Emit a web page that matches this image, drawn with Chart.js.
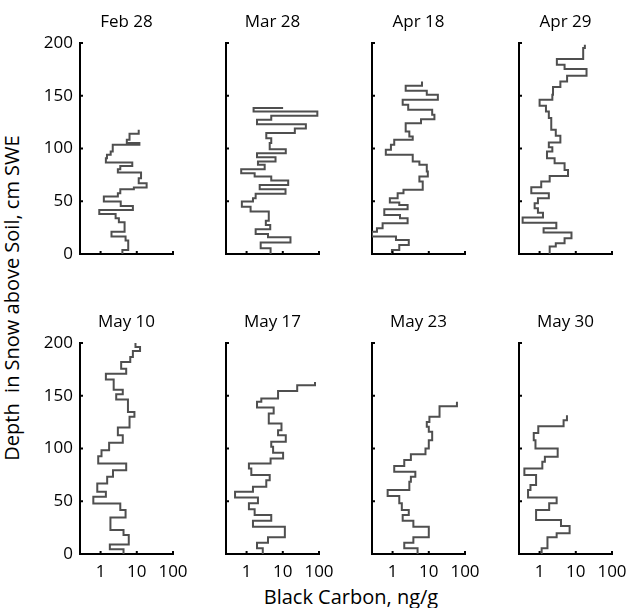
<!DOCTYPE html>
<html>
<head>
<meta charset="utf-8">
<script src="https://cdn.jsdelivr.net/npm/chart.js@4.4.0/dist/chart.umd.min.js"></script>
<style>
  body { margin: 0; background: #fff; }
  #fig { position: relative; width: 628px; height: 608px; overflow: hidden; font-family: 'Open Sans', sans-serif; }
  #fig canvas { position: absolute; }
  .lbl { position: absolute; font-size: 20px; line-height: 20px; color: #000; white-space: pre; text-align: center; }
  #ylab { left: -168px; top: 288px; width: 360px; height: 20px; transform: rotate(-90deg); }
  #xlab { left: 201px; top: 587px; width: 300px; height: 20px; }
</style>
</head>
<body>
<div id="fig">
  <div class="lbl" id="ylab">Depth  in Snow above Soil, cm SWE</div>
  <div class="lbl" id="xlab">Black Carbon, ng/g</div>
</div>
<script>
let dates = ['Feb 28', 'Mar 28', 'Apr 18', 'Apr 29', 'May 10', 'May 17', 'May 23', 'May 30']
let xTicks = [1, 10, 100]
let yTicks = [0, 50, 100, 150, 200]

//layer boundaries (cm SWE above soil) and black carbon of each layer (ng/g)
let depthFeb28 = [0, 3.8, 12.7, 16.5, 21.2, 30.1, 33.9, 38, 41.8, 45.6, 49.7, 54.4, 57.6, 61.4, 63, 67.1, 71.8, 77.2, 80.4, 83.5, 86.7, 90.8, 94, 97.2, 100.3, 103.5, 105.1, 108.2, 113.9, 117.7]
let bcFeb28 = [4.0, 5.8, 4.9, 2.0, 4.6, 3.2, 2.6, 0.92, 7.8, 3.6, 1.23, 3.0, 3.5, 8.3, 18.7, 11.3, 13.1, 3.0, 3.5, 7.5, 1.4, 1.5, 1.9, 2.1, 2.2, 11.8, 5.3, 6.3, 11.3]

let depthMar28 = [0, 5.4, 10.8, 15.8, 19, 23.4, 27.5, 31.6, 40.2, 44.9, 49.7, 52.8, 57, 61.4, 65.5, 69.6, 73.4, 76.6, 80.4, 84.5, 87.7, 91.8, 95.6, 99.4, 105.1, 109.8, 114.6, 119, 123.1, 127.2, 131, 135.1, 138.3, 138.3]
let bcMar28 = [4.6, 2.45, 16.3, 3.9, 1.78, 4.5, 3.4, 4.1, 1.29, 0.74, 1.5, 1.78, 11.9, 2.3, 14.1, 4.8, 1.67, 0.71, 3.16, 2.06, 6.3, 1.94, 12.1, 4.35, 4.8, 3.5, 21.5, 43.4, 1.94, 4.8, 90, 1.56, 10.2]

let depthApr18 = [0, 3.8, 8.5, 13.3, 16.5, 21.2, 24.4, 29.1, 33.9, 37, 42.4, 46.5, 48.7, 52.8, 57.6, 60.8, 68.7, 73.4, 78.2, 84.5, 87.7, 94, 98.7, 103.5, 108.2, 111.4, 116.1, 124, 127.8, 132, 136.7, 141.5, 146.2, 151, 154.7, 159.5, 163.6]
let bcApr18 = [0.96, 1.53, 2.8, 1.24, 0.27, 0.37, 0.53, 2.6, 1.6, 0.59, 2.6, 1.53, 0.84, 1.38, 2.0, 6.8, 5.5, 9.4, 8.8, 5.5, 3.6, 0.65, 0.9, 1.11, 3.6, 2.9, 2.3, 6.1, 14.3, 12.4, 2.7, 1.9, 17.8, 8.8, 2.3, 6.5]

let depthApr29 = [0, 7, 10.1, 14.9, 20.3, 24.4, 29.7, 34.5, 39.2, 43.4, 48.1, 52.8, 57.6, 63.3, 68.7, 74, 79.7, 86.1, 90.8, 97.2, 101.3, 105.7, 112, 117.7, 128.8, 135.1, 140.5, 146.2, 151, 158.2, 163.6, 169, 175.3, 179.4, 184.8, 195.3, 198.4]
let bcApr29 = [1.9, 2.8, 4.9, 7.6, 1.29, 2.9, 0.34, 1.24, 0.9, 0.73, 0.9, 1.8, 0.59, 1.11, 1.9, 6.1, 4.9, 2.6, 1.6, 2.25, 1.8, 3.75, 2.8, 2.1, 1.8, 1.5, 1.0, 2.25, 2.35, 3.75, 5.75, 19.8, 4.9, 3.0, 16, 17.8]

let depthMay10 = [0, 4.4, 9.1, 17.9, 22.7, 34.7, 41.6, 47.9, 54.3, 59, 66.9, 73.2, 79.5, 85.8, 92.7, 98.4, 105.4, 112.6, 119.9, 130, 134.7, 146.4, 151.4, 155.8, 165.3, 170.9, 175.7, 182, 186.8, 192.4, 196.2, 200]
let bcMay10 = [4.3, 1.8, 6.0, 4.3, 1.87, 4.9, 3.5, 0.63, 1.4, 0.81, 1.52, 2.2, 5.1, 0.86, 1.06, 1.72, 4.1, 3.0, 6.3, 8.6, 5.7, 2.7, 4.1, 2.3, 1.4, 5.1, 3.7, 6.6, 7.8, 12.3, 9.2]

let depthMay17 = [0, 5.4, 10.7, 15.8, 25.9, 31.5, 36.9, 42.3, 48, 53.6, 59, 63.7, 70, 74.8, 81.1, 85.8, 90.5, 95.9, 101.6, 106.3, 112.6, 117.4, 123.7, 133.1, 138.8, 144.2, 147.3, 154.6, 159.9, 163.1]
let bcMay17 = [2.8, 1.94, 3.9, 11.4, 1.5, 4.8, 1.67, 1.16, 2.06, 0.48, 1.5, 3.5, 4.35, 1.35, 1.16, 4.6, 10.2, 5.4, 4.8, 12.1, 7.4, 9.2, 4.1, 5.6, 1.94, 2.55, 7.4, 25, 77.6]

let depthMay23 = [0, 5.4, 10.7, 15.8, 25.9, 31.5, 36.9, 41.6, 48, 54.9, 60.6, 68.5, 73.2, 77.9, 83.3, 89, 94.6, 100, 107.9, 115.8, 120.5, 125.2, 130, 140, 144.2]
let bcMay23 = [4.9, 2.1, 3.75, 10, 3.75, 1.9, 2.8, 1.8, 1.53, 0.73, 2.9, 3.2, 4.25, 1.11, 2.1, 3.2, 8.1, 10, 12.4, 10, 8.8, 10.4, 19.8, 59.9]

let depthMay30 = [0, 5.4, 15.8, 19.6, 26.5, 32.2, 41.6, 48, 53.6, 60.6, 65.3, 74.8, 81.1, 87.4, 92.1, 100, 107.9, 114.8, 121.1, 126.8, 131.5]
let bcMay30 = [1.14, 1.65, 2.96, 6.75, 3.9, 0.8, 1.84, 2.96, 0.48, 0.56, 0.8, 0.38, 1.19, 1.4, 3.16, 0.77, 0.69, 0.92, 4.6, 5.7]

let depths = [depthFeb28, depthMar28, depthApr18, depthApr29, depthMay10, depthMay17, depthMay23, depthMay30]
let values = [bcFeb28, bcMar28, bcApr18, bcApr29, bcMay10, bcMay17, bcMay23, bcMay30]

//panel placement: x of each column's y axis, top of each row
let axisLeft = [80, 226, 372, 519]
let rowTop = [0, 300]

Chart.defaults.font.family = "'Open Sans', sans-serif"
Chart.defaults.color = '#000'

//each layer becomes a vertical segment, joined by horizontal steps
let stepPoints = (depth, bc) => {
  let pts = []
  for (let i = 0; i < bc.length; i++) {
    pts.push({x: bc[i], y: depth[i]})
    pts.push({x: bc[i], y: depth[i + 1]})
  }
  return pts
}

//small tick marks pointing into the plot
let innerTicks = {
  id: 'innerTicks',
  afterDraw: (chart) => {
    let ctx = chart.ctx
    let sx = chart.scales.x
    let sy = chart.scales.y
    ctx.save()
    ctx.strokeStyle = '#000'
    ctx.lineWidth = 2
    ctx.beginPath()
    xTicks.forEach(v => {
      let px = sx.getPixelForValue(v)
      ctx.moveTo(px, sy.bottom)
      ctx.lineTo(px, sy.bottom - 3)
    })
    yTicks.forEach(v => {
      let py = sy.getPixelForValue(v)
      ctx.moveTo(sx.left, py)
      ctx.lineTo(sx.left + 3, py)
    })
    ctx.stroke()
    ctx.restore()
  }
}

let fig = document.getElementById('fig')

dates.forEach((fecha, i) => {
  let col = i % 4
  let row = Math.floor(i / 4)
  let canvas = document.createElement('canvas')
  canvas.width = 173
  canvas.height = 284
  canvas.style.left = (axisLeft[col] - 40) + 'px'
  canvas.style.top = rowTop[row] + 'px'
  fig.appendChild(canvas)

  let config = {
    type: 'scatter',
    data: {
      datasets: [{
        data: stepPoints(depths[i], values[i]),
        showLine: true,
        borderColor: '#4f4f4f',
        borderWidth: 2,
        pointRadius: 0,
        fill: false
      }]
    },
    options: {
      responsive: false,
      animation: false,
      devicePixelRatio: 1,
      layout: { padding: { left: 0, right: 40, top: 0, bottom: 0 } },
      plugins: {
        legend: { display: false },
        tooltip: { enabled: false },
        title: {
          display: true,
          fullSize: false,
          text: fecha,
          color: '#000',
          font: { size: 17, weight: 'normal' },
          padding: { top: 12, bottom: 10.6 }
        }
      },
      scales: {
        x: {
          type: 'logarithmic',
          min: 0.27,
          max: 100,
          afterBuildTicks: s => { s.ticks = xTicks.map(v => ({value: v})) },
          afterFit: s => { s.height = 30 },
          grid: { display: false, drawTicks: false },
          border: { display: true, color: '#000', width: 2 },
          ticks: { display: row == 1, padding: 8, font: { size: 17 }, autoSkip: false, maxRotation: 0, callback: v => String(v) }
        },
        y: {
          min: 0,
          max: 200,
          afterBuildTicks: s => { s.ticks = yTicks.map(v => ({value: v})) },
          afterFit: s => { s.width = 40 },
          grid: { display: false, drawTicks: false },
          border: { display: true, color: '#000', width: 2 },
          ticks: { display: col == 0, padding: 7, font: { size: 17 }, callback: v => String(v) }
        }
      }
    },
    plugins: [innerTicks]
  }

  new Chart(canvas, config)
})
</script>
</body>
</html>
